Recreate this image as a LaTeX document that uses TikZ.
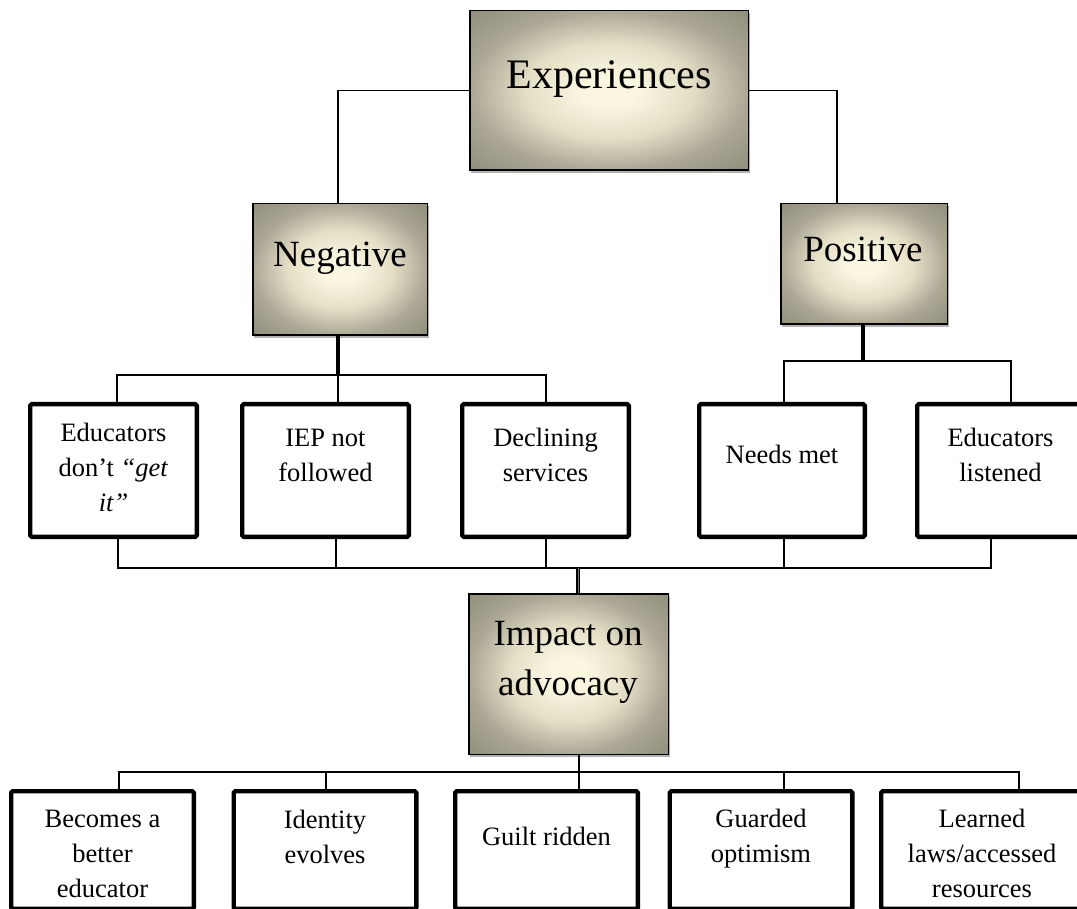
\documentclass[tikz,border=0pt]{standalone}
\usepackage{fontspec}
\setmainfont{Liberation Serif}
\usetikzlibrary{shadows,calc}
\definecolor{cream}{HTML}{FAF6E0}
\definecolor{creammid}{HTML}{E4DEC6}
\definecolor{edgemid}{HTML}{ABA794}
\definecolor{olivegray}{HTML}{8F8C7B}
\pgfdeclareradialshading{glow}{\pgfpoint{0bp}{0bp}}{color(0bp)=(cream); color(5bp)=(cream); color(15bp)=(creammid); color(25bp)=(edgemid); color(36bp)=(olivegray); color(50bp)=(olivegray)}
\begin{document}
\begin{tikzpicture}[x=1pt,y=-1pt,
  shadedbox/.style={draw=black, line width=1.5pt, shade, shading=glow, inner sep=0pt,
    drop shadow={shadow xshift=1.5pt, shadow yshift=-2.5pt, opacity=0.3, fill=black}},
  rowbox/.style={draw=black, line width=4.3pt, rounded corners=1.5pt, fill=white, inner sep=0pt},
  bigtext/.style={font=\fontsize{42}{50}\selectfont, inner sep=0pt},
  midtext/.style={font=\fontsize{37}{50}\selectfont, inner sep=0pt, align=center},
  smalltext/.style={font=\fontsize{26.5}{35}\selectfont, inner sep=0pt, align=center, anchor=north},
  conn/.style={draw=black, line width=1.3pt},
  thickconn/.style={draw=black, line width=3.3pt},
  dblconn/.style={draw=black, double=black!55, line width=1.6pt, double distance=0.8pt}]
\useasboundingbox (0,0) rectangle (1077,909);
\clip (0,0) rectangle (1077,909);

% top level
\node[shadedbox, minimum width=278.5, minimum height=159.5] (exp) at (609,90.5) {};
\node[bigtext, anchor=base] (expt) at (609,89) {Experiences};

\node[shadedbox, minimum width=174.5, minimum height=131.5] (neg) at (340,269.5) {};
\node[midtext, anchor=base] (negt) at (340,267) {Negative};

\node[shadedbox, minimum width=166.5, minimum height=120.5] (pos) at (864,264) {};
\node[midtext, anchor=base] (post) at (863,262) {Positive};

% row 1
\node[rowbox, minimum width=166.7, minimum height=132.7] (edu) at (113.5,470.5) {};
\node[rowbox, minimum width=166.7, minimum height=132.7] (iep) at (325.5,470.5) {};
\node[rowbox, minimum width=166.7, minimum height=132.7] (dec) at (545.5,470.5) {};
\node[rowbox, minimum width=165.7, minimum height=132.7] (needs) at (782,470.5) {};
\node[rowbox, minimum width=166.7, minimum height=132.7] (el) at (1000.5,470.5) {};
\node[smalltext] (edut) at (113.5,416.5) {\strut Educators\\don’t \textit{“get}\\\textit{it”}};
\node[smalltext] (iept) at (325.5,421.5) {\strut IEP not\\followed};
\node[smalltext] (dect) at (545.5,421.5) {\strut Declining\\services};
\node[smalltext] (needst) at (782,438.5) {\strut Needs met};
\node[smalltext] (elt) at (1000.5,421.5) {\strut Educators\\listened};

% impact
\node[shadedbox, minimum width=199.5, minimum height=160.5] (imp) at (568.5,674) {};
\node[midtext, anchor=north] (impt) at (568,610) {\strut Impact on\\advocacy};

% row 2
\node[rowbox, minimum width=182.7, minimum height=117.7] (bec) at (102.5,850) {};
\node[rowbox, minimum width=182.7, minimum height=117.7] (ide) at (325,850) {};
\node[rowbox, minimum width=182.7, minimum height=117.7] (gui) at (546.5,850) {};
\node[rowbox, minimum width=182.7, minimum height=117.7] (grd) at (761,850) {};
\node[rowbox, minimum width=201.7, minimum height=117.7] (lrn) at (982,850) {};
\node[smalltext] (bect) at (102.5,802.5) {\strut Becomes a\\better\\educator};
\node[smalltext] (idet) at (325,803.5) {\strut Identity\\evolves};
\node[smalltext] (guit) at (546.5,820.5) {\strut Guilt ridden};
\node[smalltext] (grdt) at (761,802.5) {\strut Guarded\\optimism};
\node[smalltext] (lrnt) at (982,802.5) {\strut Learned\\laws/accessed\\resources};

% connectors: experiences
\draw[conn] (exp.west) -| ([xshift=-2]neg.north);
\draw[conn] (exp.east) -| ([xshift=-27]pos.north);

% negative children
\coordinate (nb) at ($(neg.south)+(-2,39)$);
\draw[thickconn] ([xshift=-2]neg.south) -- (nb);
\draw[conn] ([xshift=3.5]edu.north) |- (nb) -| ([xshift=0.5]dec.north);
\draw[conn] (nb) -- (nb |- iep.north);

% positive children
\coordinate (pb) at ($(pos.south)+(-1,36)$);
\draw[thickconn] ([xshift=-1]pos.south) -- (pb);
\draw[conn] ([xshift=2]needs.north) |- (pb) -| ([xshift=10.5]el.north);

% row 1 to impact
\coordinate (ib) at ($(imp.north)+(9.5,-25)$);
\draw[conn] ([xshift=4.5]edu.south) |- (ib) -| ([xshift=-9.5]el.south);
\draw[conn] ([xshift=10.5]iep.south) -- ++(0,29);
\draw[conn] ([xshift=0.5]dec.south) -- ++(0,29);
\draw[conn] ([xshift=2]needs.south) -- ++(0,29);
\draw[dblconn] (ib) -- ([xshift=9.5]imp.north);

% impact to row 2
\draw[conn] ([xshift=10.5]imp.south) -- ([xshift=32.5]gui.north);
\draw[conn] ([xshift=16.5]bec.north) -- ++(0,-17) -| ([xshift=37]lrn.north);
\draw[conn] ([xshift=1]ide.north) -- ++(0,-17);
\draw[conn] ([xshift=23]grd.north) -- ++(0,-17);
\end{tikzpicture}
\end{document}
